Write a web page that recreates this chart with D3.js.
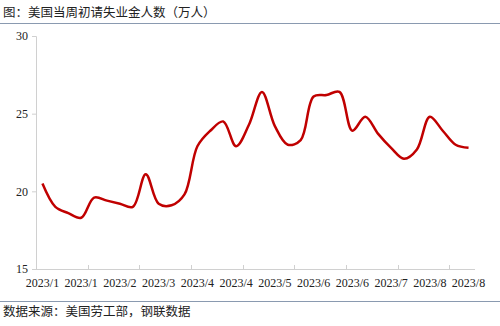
<!DOCTYPE html>
<html>
<head>
<meta charset="utf-8">
<script src="https://cdn.jsdelivr.net/npm/d3@7"></script>
<style>
  body { margin: 0; background: #fff; }
  svg { display: block; }
</style>
</head>
<body>
<div id="chart"></div>
<script>
// weekly initial jobless claims, 10k persons (weeks ending 2023-01-07 .. 2023-08-26)
var weekLabels = [
  "2023/1", "2023/1", "2023/1", "2023/1", "2023/2", "2023/2", "2023/2", "2023/2",
  "2023/3", "2023/3", "2023/3", "2023/3", "2023/4", "2023/4", "2023/4", "2023/4",
  "2023/4", "2023/5", "2023/5", "2023/5", "2023/5", "2023/6", "2023/6", "2023/6",
  "2023/6", "2023/7", "2023/7", "2023/7", "2023/7", "2023/7", "2023/8", "2023/8",
  "2023/8", "2023/8"
];
var claims = [
  20.5, 19.0, 18.6, 18.3, 19.6, 19.4, 19.2, 19.0,
  21.1, 19.2, 19.1, 19.8, 22.9, 23.9, 24.5, 22.9,
  24.3, 26.4, 24.2, 23.0, 23.3, 26.1, 26.2, 26.4,
  23.9, 24.8, 23.7, 22.8, 22.1, 22.7, 24.8, 23.9,
  23.0, 22.8
];
var yTicks = [15, 20, 25, 30];
var labelEvery = 3, tickEvery = 4;

var titleText = "图：美国当周初请失业金人数（万人）";
var sourceText = "数据来源：美国劳工部，钢联数据";

var W = 500, H = 326;
var margin = { top: 36, right: 25, bottom: 57, left: 36 };
var width = W - margin.left - margin.right,
    height = H - margin.top - margin.bottom;

var cjk = "'Noto Sans CJK SC', 'Noto Sans', sans-serif";
var serif = "'Liberation Serif', 'DejaVu Serif', serif";

var svg = d3.select("#chart").append("svg")
    .attr("width", W)
    .attr("height", H);

svg.append("text")
    .attr("x", 3)
    .attr("y", 13)
    .attr("dy", "0.35em")
    .style("font-family", cjk)
    .style("font-size", "12.5px")
    .style("fill", "#222")
    .text(titleText);

svg.append("line")
    .attr("x1", 0).attr("x2", W)
    .attr("y1", 23.5).attr("y2", 23.5)
    .style("stroke", "#8a9ab0")
    .style("stroke-width", 1);

svg.append("line")
    .attr("x1", 0).attr("x2", W)
    .attr("y1", 301.5).attr("y2", 301.5)
    .style("stroke", "#8a9ab0")
    .style("stroke-width", 1);

svg.append("text")
    .attr("x", 3)
    .attr("y", 312)
    .attr("dy", "0.35em")
    .style("font-family", cjk)
    .style("font-size", "12.5px")
    .style("fill", "#222")
    .text(sourceText);

var g = svg.append("g")
    .attr("transform", "translate(" + margin.left + "," + margin.top + ")");

var idx = d3.range(claims.length);

var x = d3.scaleBand()
    .domain(idx)
    .range([0, width]);

var y = d3.scaleLinear()
    .domain([15, 30])
    .range([height, 0]);

// y axis, small outward ticks
var yAxis = d3.axisLeft(y)
    .tickValues(yTicks)
    .tickSize(4)
    .tickPadding(4)
    .tickFormat(d3.format("d"));

var gy = g.append("g").call(yAxis);
gy.select(".domain").style("stroke", "#d0d0d0");
gy.selectAll(".tick line").style("stroke", "#d0d0d0");
gy.selectAll(".tick text")
    .style("font-family", serif)
    .style("font-size", "12px")
    .style("fill", "#222");

// x axis: ticks at category boundaries every 4 weeks, labels every 3 weeks
var gx = g.append("g")
    .attr("transform", "translate(0," + height + ")");

gx.append("line")
    .attr("x1", 0).attr("x2", width)
    .attr("y1", 0.5).attr("y2", 0.5)
    .style("stroke", "#d0d0d0");

gx.selectAll(".xtick")
    .data(idx.filter(function(i) { return i % tickEvery === 0 && i > 0; }))
    .enter().append("line")
    .attr("class", "xtick")
    .attr("x1", function(i) { return Math.round(x(i)) + 0.5; })
    .attr("x2", function(i) { return Math.round(x(i)) + 0.5; })
    .attr("y1", 0).attr("y2", -4)
    .style("stroke", "#d0d0d0");

gx.selectAll(".xlabel")
    .data(idx.filter(function(i) { return i % labelEvery === 0; }))
    .enter().append("text")
    .attr("class", "xlabel")
    .attr("x", function(i) { return x(i) + x.bandwidth() / 2; })
    .attr("y", 14)
    .attr("dy", "0.35em")
    .attr("text-anchor", "middle")
    .style("font-family", serif)
    .style("font-size", "12px")
    .style("fill", "#222")
    .text(function(i) { return weekLabels[i]; });

// line
var line = d3.line()
    .x(function(d, i) { return x(i) + x.bandwidth() / 2; })
    .y(function(d) { return y(d); })
    .curve(d3.curveCatmullRom.alpha(0.5));

g.append("path")
    .datum(claims)
    .attr("d", line)
    .style("fill", "none")
    .style("stroke", "#c00000")
    .style("stroke-width", 2.5)
    .style("stroke-linejoin", "round");
</script>
</body>
</html>
